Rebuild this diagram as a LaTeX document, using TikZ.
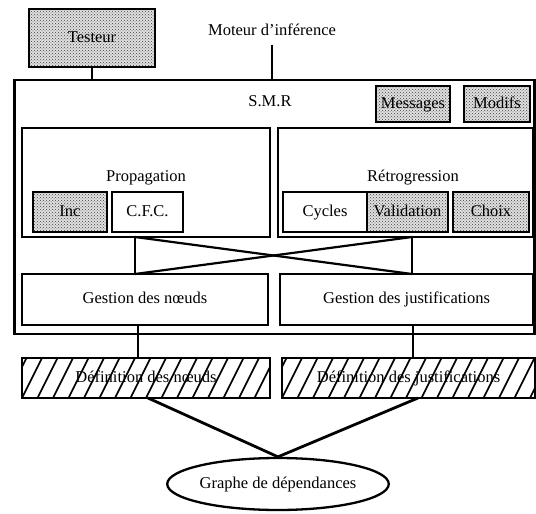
\documentclass[tikz,border=0pt]{standalone}
\usepackage{fontspec}
\setmainfont{Liberation Serif}
\usetikzlibrary{patterns,shapes.geometric}
\begin{document}
\begin{tikzpicture}[x=1pt,y=-1pt,
  txt/.style={inner sep=0pt,font=\rmfamily\fontsize{16.5}{18}\selectfont,text height=11.5pt,text depth=3.5pt},
  box/.style={draw,line width=2.3pt,inner sep=0pt,font=\rmfamily\fontsize{16.5}{18}\selectfont,text height=11.5pt,text depth=3.5pt},
  dotbox/.style={box,preaction={fill=black!12},pattern=crosshatch dots,pattern color=black!75},
  hatchbox/.style={box,path picture={
      \foreach \i in {-3,...,18}{
        \draw[line width=1.6pt] ([xshift=\i*15.5pt]path picture bounding box.south west) -- ++(20pt,40pt);}}},
  conn/.style={line width=2.2pt},
  thick conn/.style={line width=2.8pt}]
\useasboundingbox (0,0) rectangle (536,514);

% top
\node[dotbox,minimum width=126pt,minimum height=58pt] (tst) at (92,38) {Testeur};
\node[txt] (mot) at (272,31) {Moteur d'inférence};

% S.M.R frame
\node[box,minimum width=520pt,minimum height=254pt] (smr) at (274.5,207) {};
\node[txt] (smrl) at (270,102) {S.M.R};
\node[dotbox,minimum width=74pt,minimum height=36pt] (msg) at (413,104) {Messages};
\node[dotbox,minimum width=66pt,minimum height=36pt] (mod) at (497,104) {Modifs};

% Propagation
\node[box,minimum width=248pt,minimum height=109pt] (prop) at (146,182.5) {};
\node[txt] (propl) at (146,177) {Propagation};
\node[dotbox,minimum width=74pt,minimum height=40pt] (inc) at (70,212) {Inc};
\node[box,minimum width=71pt,minimum height=40pt] (cfc) at (147.5,212) {C.F.C.};

% Retrogression
\node[box,minimum width=255pt,minimum height=109pt] (retro) at (405.5,182.5) {};
\node[txt] (retrol) at (413,177) {Rétrogression};
\node[box,minimum width=84pt,minimum height=40pt] (cyc) at (325,212) {Cycles};
\node[dotbox,minimum width=81pt,minimum height=40pt] (val) at (407.5,212) {Validation};
\node[dotbox,minimum width=76pt,minimum height=40pt] (cho) at (491,212) {Choix};

% Gestion
\node[box,minimum width=246pt,minimum height=51pt] (gn) at (145,299.5) {Gestion des n\oe uds};
\node[box,minimum width=253pt,minimum height=51pt] (gj) at (406.5,299.5) {Gestion des justifications};

% Definitions
\node[hatchbox,minimum width=248pt,minimum height=40pt] (dn) at (146,378) {Définition des n\oe uds};
\node[hatchbox,minimum width=253pt,minimum height=40pt] (dj) at (408.5,378) {Définition des justifications};

% Graph
\node[box,ellipse,minimum width=156pt,minimum height=52pt] (gr) at (278,484) {Graphe de dépendances};

% connectors
\draw[conn] (tst.south) -- (tst.south |- smr.north);
\draw[conn] ([yshift=-6pt]mot.south) -- (mot.south |- smr.north);

\coordinate (pb) at (135,237);
\coordinate (rb) at (412,237);
\coordinate (gnt) at (135,274);
\coordinate (gjt) at (412,274);
\draw[conn] (pb) -- (gnt);
\draw[conn] (rb) -- (gjt);
\draw[conn] (pb) -- (gjt);
\draw[conn] (rb) -- (gnt);

\coordinate (gnb) at (138,325);
\coordinate (gjb) at (413,325);
\draw[conn] (gnb) -- (gnb |- dn.north);
\draw[conn] (gjb) -- (gjb |- dj.north);

\coordinate (dnb) at (148,398);
\coordinate (djb) at (418,398);
\draw[thick conn] (dnb) -- (gr.north);
\draw[thick conn] (djb) -- (gr.north);
\end{tikzpicture}
\end{document}
